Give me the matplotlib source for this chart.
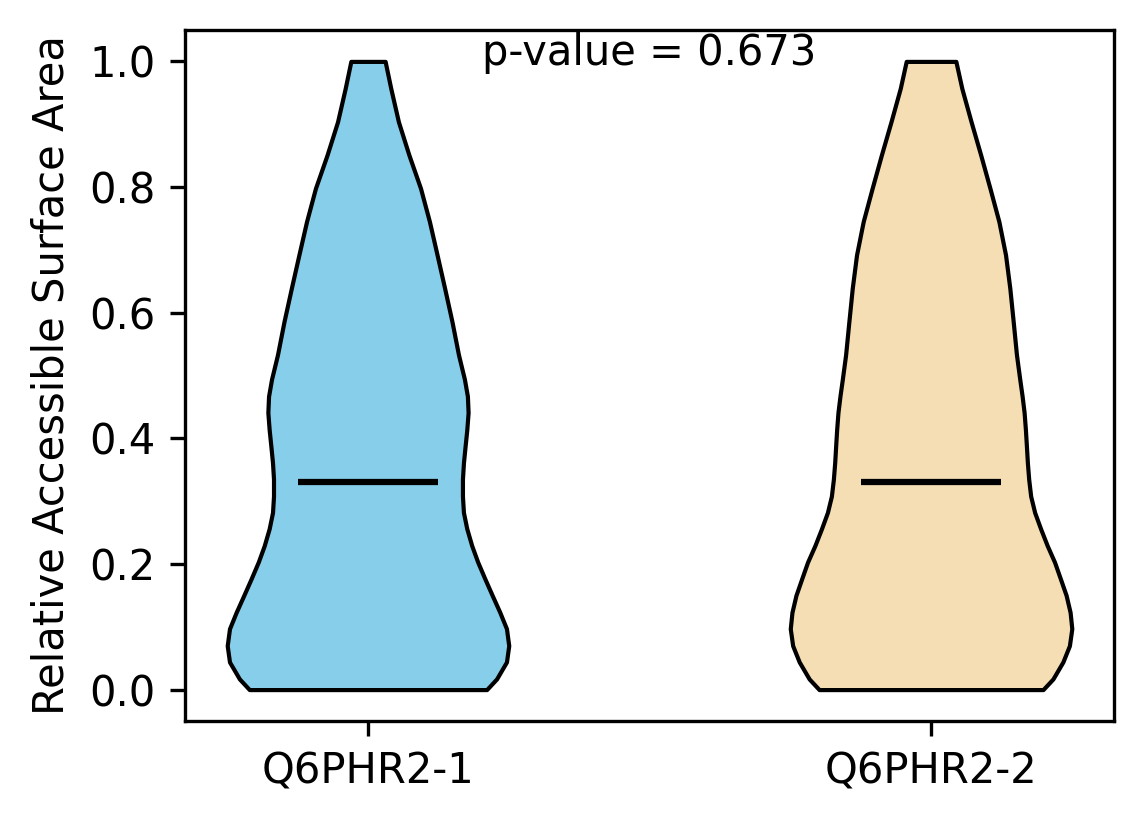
import matplotlib
matplotlib.use("Agg")
import matplotlib.pyplot as plt
import numpy as np

# density profiles (relative half-widths at each RSA level)
labels = ["Q6PHR2-1", "Q6PHR2-2"]
colors = ["skyblue", "wheat"]
medians = [0.33, 0.33]
p_value = 0.673

rsa = [0.0, 0.017, 0.044, 0.070, 0.097, 0.123, 0.150, 0.176, 0.203, 0.229,
       0.256, 0.282, 0.308, 0.335, 0.361, 0.388, 0.414, 0.441, 0.467, 0.494,
       0.533, 0.586, 0.639, 0.692, 0.745, 0.798, 0.851, 0.904, 0.957, 1.0]

dens_1 = [119.7, 129.7, 139.7, 142, 139.7, 133, 125.3, 118, 110.7, 104.7,
          99.7, 96.3, 95.3, 95.3, 96.3, 98, 99.7, 101, 100.3, 97.3,
          91.3, 84.7, 77.3, 69.7, 62, 53, 41.3, 30.7, 23, 17.3]

dens_2 = [112.7, 122.7, 132.7, 139.3, 141.7, 140, 136, 130.3, 124.3, 117,
          110.3, 104.3, 100.3, 98.3, 97, 96, 95, 93.7, 91.7, 89.3,
          86, 82.7, 79.3, 75, 68.3, 59.3, 50, 40.3, 31, 25]


def make_stats(coords, vals, med):
    coords = np.array(coords)
    return dict(coords=coords, vals=np.array(vals), mean=med, median=med,
                min=coords.min(), max=coords.max())


def main():
    fig = plt.figure(figsize=(11.44 / 3, 8.24 / 3), dpi=300)
    ax = fig.add_axes([0.1617, 0.125, 0.8121, 0.8386])

    stats = [make_stats(rsa, dens_1, medians[0]),
             make_stats(rsa, dens_2, medians[1])]
    parts = ax.violin(stats, positions=[1, 2], showmeans=False,
                      showextrema=False, showmedians=True)
    for body, c in zip(parts["bodies"], colors):
        body.set_facecolor(c)
        body.set_edgecolor("black")
        body.set_linewidth(1)
        body.set_alpha(1)
    parts["cmedians"].set_color("black")
    parts["cmedians"].set_linewidth(1.5)

    ax.set_xticks([1, 2])
    ax.set_xticklabels(labels, fontsize=10)
    ax.tick_params(axis="y", labelsize=10)
    ax.set_ylabel("Relative Accessible Surface Area", fontsize=10)
    ax.text(1.5, 0.994, "p-value = %.3f" % p_value, ha="center",
            va="baseline", fontsize=10)

    fig.savefig("out.png", dpi=300)


if __name__ == "__main__":
    main()
